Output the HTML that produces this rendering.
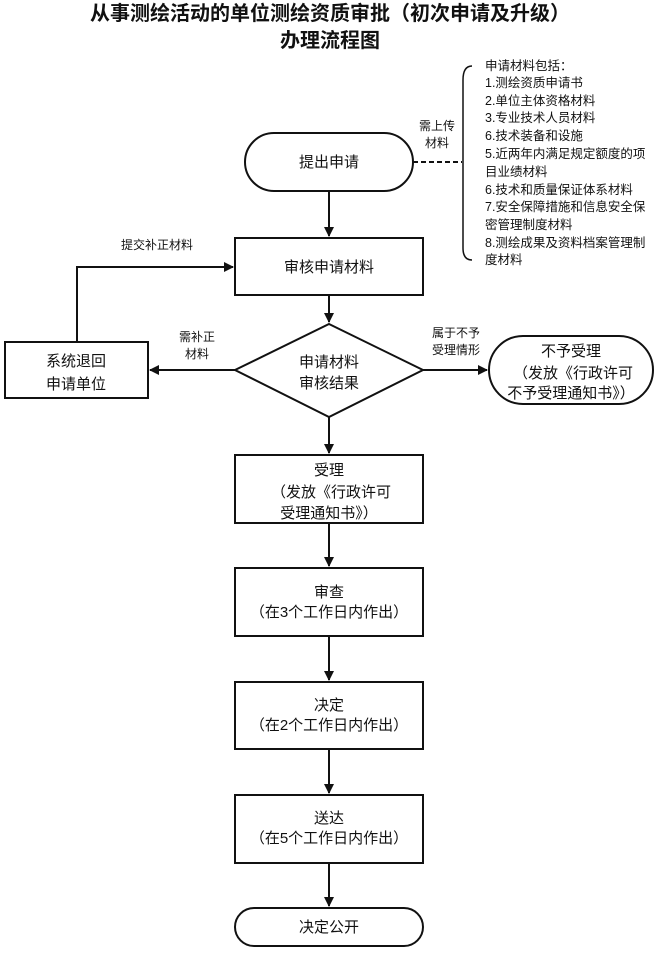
<!DOCTYPE html>
<html><head><meta charset="utf-8"><style>
html,body{margin:0;padding:0;background:#fff;}
svg{display:block;}
text{font-family:"Liberation Sans","Noto Sans CJK SC",sans-serif;fill:#111;}
</style></head><body>
<svg width="665" height="954" viewBox="0 0 665 954" xmlns="http://www.w3.org/2000/svg">
<defs><marker id="a" markerWidth="10" markerHeight="10" refX="9" refY="5" orient="auto" markerUnits="userSpaceOnUse"><path d="M0,0 L10,5 L0,10 z" fill="#111"/></marker></defs>
<text x="330" y="20" font-size="20" font-weight="bold" text-anchor="middle">从事测绘活动的单位测绘资质审批（初次申请及升级）</text>
<text x="330" y="47" font-size="20" font-weight="bold" text-anchor="middle">办理流程图</text>
<g stroke="#111" stroke-width="2" fill="none">
<rect x="245" y="133" width="168" height="58" rx="29"/>
<rect x="235" y="238" width="188" height="57"/>
<rect x="5" y="342" width="143" height="56"/>
<polygon points="329,324 423,370 329,417 235,370"/>
<rect x="489" y="336" width="164" height="68" rx="34"/>
<rect x="235" y="455" width="188" height="68"/>
<rect x="235" y="568" width="188" height="68"/>
<rect x="235" y="682" width="188" height="67"/>
<rect x="235" y="795" width="188" height="68"/>
<rect x="235" y="908" width="188" height="38" rx="19"/>
<path d="M329,191 V236" marker-end="url(#a)"/>
<path d="M329,295 V322" marker-end="url(#a)"/>
<path d="M329,417 V453" marker-end="url(#a)"/>
<path d="M329,523 V566" marker-end="url(#a)"/>
<path d="M329,636 V680" marker-end="url(#a)"/>
<path d="M329,749 V793" marker-end="url(#a)"/>
<path d="M329,863 V906" marker-end="url(#a)"/>
<path d="M235,370 H150" marker-end="url(#a)"/>
<path d="M423,370 H487" marker-end="url(#a)"/>
<path d="M77,342 V267 H233" marker-end="url(#a)"/>
<path d="M413,162 H462" stroke-dasharray="5,3"/>
<path d="M472,66 Q463,66 463,80 V248 Q463,260 472,260" stroke-width="1.5"/>
</g>
<g font-size="15" text-anchor="middle">
<text x="329" y="167">提出申请</text>
<text x="329" y="272">审核申请材料</text>
<text x="76" y="366">系统退回</text>
<text x="76" y="389">申请单位</text>
<text x="329" y="367">申请材料</text>
<text x="329" y="388">审核结果</text>
<text x="571" y="356">不予受理</text>
<text x="573" y="378">（发放《行政许可</text>
<text x="571" y="398">不予受理通知书》）</text>
<text x="329" y="475">受理</text>
<text x="331" y="497">（发放《行政许可</text>
<text x="329" y="518">受理通知书》）</text>
<text x="329" y="597">审查</text>
<text x="329" y="617">（在3个工作日内作出）</text>
<text x="329" y="710">决定</text>
<text x="329" y="730">（在2个工作日内作出）</text>
<text x="329" y="823">送达</text>
<text x="329" y="843">（在5个工作日内作出）</text>
<text x="329" y="932">决定公开</text>
</g>
<g font-size="12" text-anchor="middle">
<text x="157" y="249">提交补正材料</text>
<text x="197" y="341">需补正</text>
<text x="197" y="358">材料</text>
<text x="456" y="337">属于不予</text>
<text x="456" y="354">受理情形</text>
<text x="437" y="130">需上传</text>
<text x="437" y="147">材料</text>
</g>
<g font-size="12.5">
<text x="485" y="70">申请材料包括：</text>
<text x="485" y="87">1.测绘资质申请书</text>
<text x="485" y="105">2.单位主体资格材料</text>
<text x="485" y="122">3.专业技术人员材料</text>
<text x="485" y="140">6.技术装备和设施</text>
<text x="485" y="158">5.近两年内满足规定额度的项</text>
<text x="485" y="176">目业绩材料</text>
<text x="485" y="194">6.技术和质量保证体系材料</text>
<text x="485" y="211">7.安全保障措施和信息安全保</text>
<text x="485" y="229">密管理制度材料</text>
<text x="485" y="247">8.测绘成果及资料档案管理制</text>
<text x="485" y="264">度材料</text>
</g>
</svg>
</body></html>
